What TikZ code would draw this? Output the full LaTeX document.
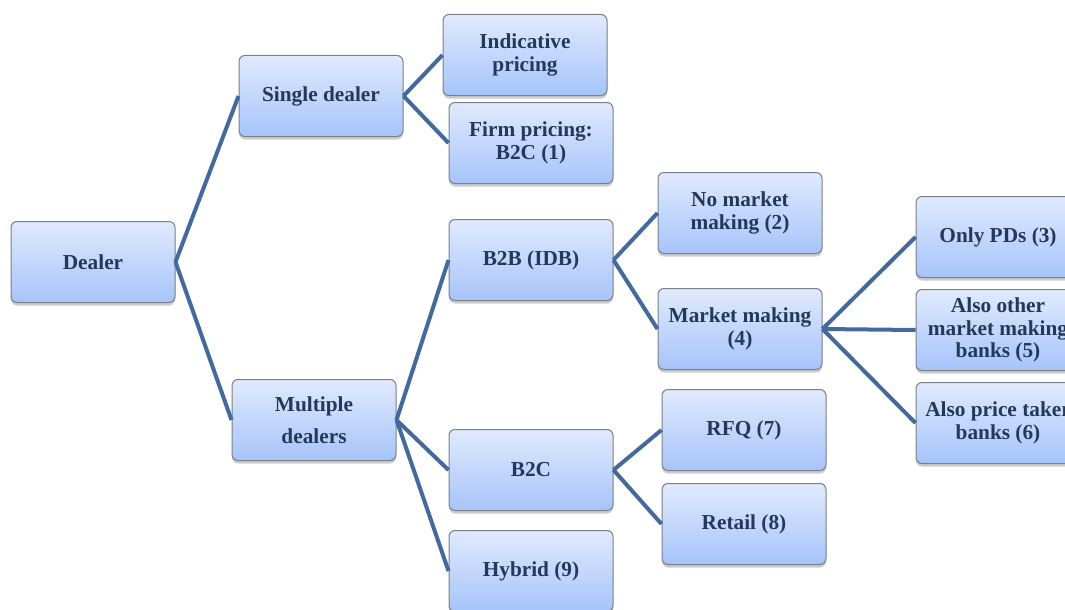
\documentclass[tikz,border=0pt]{standalone}
\usepackage{fontspec}
\setmainfont{Liberation Serif}
\usetikzlibrary{shadows}
\definecolor{boxtop}{HTML}{E0EAFD}
\definecolor{boxbot}{HTML}{A6C4FA}
\definecolor{boxline}{HTML}{7A7F88}
\definecolor{linkcol}{HTML}{44699C}
\definecolor{textcol}{HTML}{23395A}
\begin{document}
\begin{tikzpicture}[x=1pt,y=-1pt,
  box/.style={draw=boxline,line width=1pt,rounded corners=6pt,top color=boxtop,bottom color=boxbot,
    minimum width=164pt,minimum height=81pt,inner sep=2pt,align=center,text=textcol,
    font=\fontsize{21.3}{22.5}\selectfont\bfseries,
    drop shadow={opacity=0.4,shadow xshift=0pt,shadow yshift=-3pt}},
  link/.style={draw=linkcol,line width=4pt}]
\useasboundingbox (0,0) rectangle (1065,610);
\clip (0,0) rectangle (1065,610);

\node[box] (dealer) at (93,262) {Dealer};
\node[box] (single) at (321,96) {Single dealer};
\node[box] (multi) at (314,420) {Multiple\\[9pt]dealers};

\node[box] (indic) at (525,55) {Indicative\\pricing};
\node[box] (firm) at (531,143) {Firm pricing:\\B2C (1)};
\node[box] (btob) at (531,260) {B2B (IDB)};
\node[box] (btoc) at (531,470) {B2C};
\node[box] (hybrid) at (531,571) {Hybrid (9)};

\node[box] (nomm) at (740,213) {No market\\making (2)};
\node[box] (mm) at (740,329) {Market making\\(4)};
\node[box] (rfq) at (744,430) {RFQ (7)};
\node[box] (retail) at (744,524) {Retail (8)};

\node[box] (onlypd) at (998,237) {Only PDs (3)};
\node[box] (othermm) at (998,330) {Also other\\market making\\banks (5)};
\node[box] (taker) at (998,423) {Also price taker\\banks (6)};

\foreach \a/\b in {dealer/single,dealer/multi,single/indic,single/firm,
  multi/btob,multi/btoc,multi/hybrid,btob/nomm,btob/mm,
  mm/onlypd,mm/othermm,mm/taker,btoc/rfq,btoc/retail}
  \draw[link] (\a.east) -- (\b.west);

\end{tikzpicture}
\end{document}
